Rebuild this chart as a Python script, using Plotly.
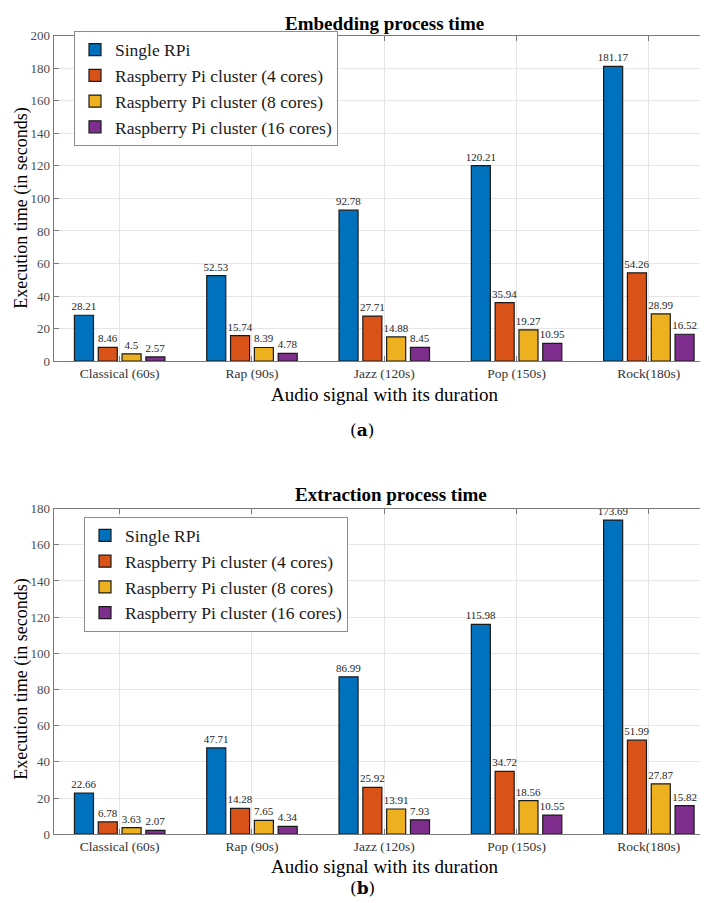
import plotly.graph_objects as go

categories = ["Classical (60s)", "Rap (90s)", "Jazz (120s)", "Pop (150s)", "Rock(180s)"]
series_names = ["Single RPi", "Raspberry Pi cluster (4 cores)",
                "Raspberry Pi cluster (8 cores)", "Raspberry Pi cluster (16 cores)"]
colors = ["#0072BD", "#D95319", "#EDB120", "#7E2F8E"]

embed_single = [28.21, 52.53, 92.78, 120.21, 181.17]
embed_4 = [8.46, 15.74, 27.71, 35.94, 54.26]
embed_8 = [4.5, 8.39, 14.88, 19.27, 28.99]
embed_16 = [2.57, 4.78, 8.45, 10.95, 16.52]

extract_single = [22.66, 47.71, 86.99, 115.98, 173.69]
extract_4 = [6.78, 14.28, 25.92, 34.72, 51.99]
extract_8 = [3.63, 7.65, 13.91, 18.56, 27.87]
extract_16 = [2.07, 4.34, 7.93, 10.55, 15.82]

embed = [embed_single, embed_4, embed_8, embed_16]
extract = [extract_single, extract_4, extract_8, extract_16]

xpos = list(range(1, len(categories) + 1))
SERIF = "Liberation Serif, Times New Roman, serif"
W = 708.0
H = 903.0

fig = go.Figure()

for panel, (data, xa, ya, lg) in enumerate([(embed, "x", "y", "legend"), (extract, "x2", "y2", "legend2")]):
    for name, vals, col in zip(series_names, data, colors):
        fig.add_trace(go.Bar(
            x=xpos, y=vals, name=name, xaxis=xa, yaxis=ya, legend=lg,
            marker=dict(color=col, line=dict(color="#1a1a1a", width=1.2)),
            text=[str(v) for v in vals], textposition="outside",
            textfont=dict(family=SERIF, size=11, color="#262626"),
            constraintext="none", cliponaxis=False,
        ))

axis_common = dict(
    showline=True, linecolor="#7a7a7a", linewidth=1, mirror="ticks",
    ticks="inside", ticklen=5, tickcolor="#7a7a7a",
    showgrid=True, gridcolor="#e6e6e6", zeroline=False,
    tickfont=dict(family=SERIF, size=13, color="#4d4d4d"),
)

xcommon = dict(axis_common, range=[0.5, 5.5], tickvals=xpos, ticktext=categories,
               tickfont=dict(family=SERIF, size=13.5, color="#333333"))
ycommon = dict(axis_common)

legend_common = dict(xanchor="left", yanchor="top",
                     bgcolor="white", bordercolor="#8c8c8c", borderwidth=1,
                     font=dict(family=SERIF, size=17.5, color="#1a1a1a"),
                     tracegroupgap=0, itemwidth=30)

def ann(text, x, y, size, angle=0, family=SERIF):
    return dict(text=text, xref="paper", yref="paper", x=x / W, y=1 - y / H,
                xanchor="center", yanchor="middle", showarrow=False, textangle=angle,
                font=dict(family=family, size=size, color="#000000"))

fig.update_layout(
    width=708, height=903,
    margin=dict(l=0, r=0, t=0, b=0),
    paper_bgcolor="white", plot_bgcolor="white",
    barmode="group", bargap=0.28, bargroupgap=0.2,
    showlegend=True,
    xaxis=dict(xcommon, domain=[0.0643, 0.9986], anchor="y"),
    yaxis=dict(ycommon, domain=[0.6102, 0.9767], range=[0, 200], dtick=20, anchor="x"),
    xaxis2=dict(xcommon, domain=[0.0643, 0.9986], anchor="y2"),
    yaxis2=dict(ycommon, domain=[0.0775, 0.4441], range=[0, 180], dtick=20, anchor="x2"),
    legend=dict(legend_common, x=66 / W, y=1 - 16 / H),
    legend2=dict(legend_common, x=76 / W, y=1 - 510 / H),
    annotations=[
        ann("<b>Embedding process time</b>", 377, 9, 19),
        ann("<b>Extraction process time</b>", 383, 488, 19),
        ann("Execution time (in seconds)", 14, 197, 18, angle=-90),
        ann("Execution time (in seconds)", 14, 676, 18, angle=-90),
        ann("Audio signal with its duration", 376, 386, 19),
        ann("Audio signal with its duration", 376, 866, 19),
        ann("(<b>a</b>)", 354, 422, 17, family="DejaVu Serif, serif"),
        ann("(<b>b</b>)", 354, 888, 17, family="DejaVu Serif, serif"),
    ],
)

fig.write_html("out.html")
